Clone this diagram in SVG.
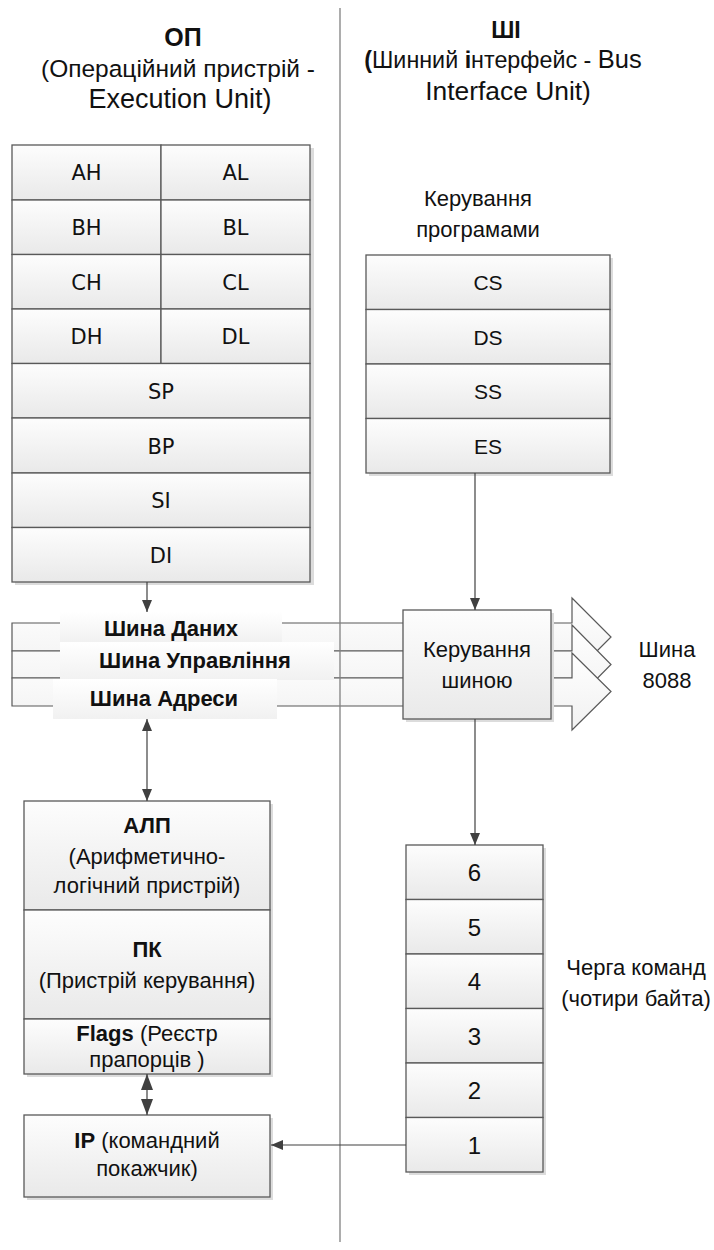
<svg xmlns="http://www.w3.org/2000/svg" width="714" height="1250" viewBox="0 0 714 1250">
<defs>
<linearGradient id="g" x1="0" y1="0" x2="0" y2="1"><stop offset="0" stop-color="#fdfdfd"/><stop offset="1" stop-color="#e9e9e9"/></linearGradient>
<linearGradient id="g2" x1="0" y1="0" x2="0" y2="1"><stop offset="0" stop-color="#ffffff"/><stop offset="1" stop-color="#f1f1f1"/></linearGradient>
<marker id="ar" markerUnits="userSpaceOnUse" markerWidth="12" markerHeight="10" refX="12" refY="5" orient="auto-start-reverse"><path d="M0,0 L12,5 L0,10 z" fill="#404040"/></marker>
<marker id="arL" markerUnits="userSpaceOnUse" markerWidth="16" markerHeight="12" refX="16" refY="6" orient="auto-start-reverse"><path d="M0,0 L16,6 L0,12 z" fill="#404040"/></marker>
</defs>
<style>
.cell{fill:url(#g);stroke:#595959;stroke-width:1.3}
.sh{fill:#dcdcdc}
.lab{fill:url(#g2);stroke:none}
.bus{fill:url(#g2);stroke:#595959;stroke-width:1.2}
.t{font-family:"Liberation Sans",Arial,sans-serif;font-size:22px;fill:#111;text-anchor:middle}
.r{font-family:"DejaVu Sans",sans-serif;font-size:21px;fill:#111;text-anchor:middle}
.s{font-size:21px}
.q{font-size:24px}
.b{font-weight:bold}
.c{stroke:#404040;stroke-width:1.2;fill:none}
.div{stroke:#808080;stroke-width:1.3}
</style>
<g id="bus">
<path class="bus" d="M12,623 H572 V598 L611,637 L572,676 V651 H12 Z"/>
<path class="bus" d="M12,651 H572 V625 L611,664.5 L572,704 V678 H12 Z"/>
<path class="bus" d="M12,678 H572 V653 L611,691.5 L572,730 V706 H12 Z"/>
</g>
<line class="div" x1="340" y1="8" x2="340" y2="1242"/>
<g id="title-eu">
<text class="t b" x="183" y="46" style="font-size:25px">ОП</text>
<text class="t" x="178" y="77" style="font-size:24.5px">(Операційний пристрій -</text>
<text class="t" x="180" y="108" style="font-size:27px">Execution Unit)</text>
</g>
<g id="title-biu">
<text class="t b" x="506" y="38" style="font-size:23px">ШІ</text>
<text class="t" x="503" y="68" style="font-size:23.3px"><tspan class="b">(</tspan>Шинний <tspan class="b">і</tspan>нтерфейс - <tspan style="font-size:25.5px">Bus</tspan></text>
<text class="t" x="508" y="100" style="font-size:26.4px">Interface Unit)</text>
</g>
<g id="gp-registers">
<rect class="sh" x="15" y="148" width="299" height="437"/>
<rect class="cell" x="12" y="145" width="149" height="55"/><rect class="cell" x="161" y="145" width="149" height="55"/>
<rect class="cell" x="12" y="200" width="149" height="54.5"/><rect class="cell" x="161" y="200" width="149" height="54.5"/>
<rect class="cell" x="12" y="254.5" width="149" height="54.5"/><rect class="cell" x="161" y="254.5" width="149" height="54.5"/>
<rect class="cell" x="12" y="309" width="149" height="54.5"/><rect class="cell" x="161" y="309" width="149" height="54.5"/>
<rect class="cell" x="12" y="363.5" width="298" height="54.5"/>
<rect class="cell" x="12" y="418" width="298" height="55"/>
<rect class="cell" x="12" y="473" width="298" height="54.5"/>
<rect class="cell" x="12" y="527.5" width="298" height="54.5"/>
<text class="r" x="86.5" y="180">AH</text><text class="r" x="235.5" y="180">AL</text>
<text class="r" x="86.5" y="235">BH</text><text class="r" x="235.5" y="235">BL</text>
<text class="r" x="86.5" y="289.5">CH</text><text class="r" x="235.5" y="289.5">CL</text>
<text class="r" x="86.5" y="344">DH</text><text class="r" x="235.5" y="344">DL</text>
<text class="r" x="161" y="398.5">SP</text>
<text class="r" x="161" y="453.5">BP</text>
<text class="r" x="161" y="508">SI</text>
<text class="r" x="161" y="562.5">DI</text>
</g>
<g id="seg-label"><text class="t" x="478" y="206">Керування</text><text class="t" x="478" y="237">програмами</text></g>
<g id="seg-registers">
<rect class="sh" x="369" y="258" width="244" height="218"/>
<rect class="cell" x="366" y="255" width="244" height="54.5"/>
<rect class="cell" x="366" y="309.5" width="244" height="54.5"/>
<rect class="cell" x="366" y="364" width="244" height="54.5"/>
<rect class="cell" x="366" y="418.5" width="244" height="54.5"/>
<text class="t s" x="488" y="290">CS</text>
<text class="t s" x="488" y="344.5">DS</text>
<text class="t s" x="488" y="399">SS</text>
<text class="t s" x="488" y="453.5">ES</text>
</g>
<g id="bus-labels">
<rect class="lab" x="60" y="612" width="222" height="30"/>
<rect class="lab" x="60" y="642" width="274" height="38"/>
<rect class="lab" x="53" y="679" width="224" height="40"/>
<text class="t b" x="171" y="636">Шина Даних</text>
<text class="t b" x="195" y="668">Шина Управління</text>
<text class="t b" x="164" y="706">Шина Адреси</text>
</g>
<g id="bus-control">
<rect class="sh" x="406" y="613" width="148" height="109"/>
<rect class="cell" x="403" y="610" width="148" height="109"/>
<text class="t" x="477" y="657">Керування</text>
<text class="t" x="477" y="688">шиною</text>
</g>
<g id="bus-8088"><text class="t" x="667" y="657">Шина</text><text class="t" x="667" y="688">8088</text></g>
<g id="queue">
<rect class="sh" x="409" y="848" width="137" height="327"/>
<rect class="cell" x="406" y="845" width="137" height="54.5"/>
<rect class="cell" x="406" y="899.5" width="137" height="54.5"/>
<rect class="cell" x="406" y="954" width="137" height="54.5"/>
<rect class="cell" x="406" y="1008.5" width="137" height="54.5"/>
<rect class="cell" x="406" y="1063" width="137" height="54.5"/>
<rect class="cell" x="406" y="1117.5" width="137" height="54.5"/>
<text class="t q" x="474.5" y="881">6</text>
<text class="t q" x="474.5" y="935.5">5</text>
<text class="t q" x="474.5" y="990">4</text>
<text class="t q" x="474.5" y="1044.5">3</text>
<text class="t q" x="474.5" y="1099">2</text>
<text class="t q" x="474.5" y="1153.5">1</text>
</g>
<g id="queue-label"><text class="t" x="636" y="975">Черга команд</text><text class="t" x="636" y="1006">(чотири байта)</text></g>
<g id="alu">
<rect class="sh" x="27" y="804" width="246" height="273"/>
<rect class="cell" x="24" y="801" width="246" height="109"/>
<rect class="cell" x="24" y="910" width="246" height="109"/>
<rect class="cell" x="24" y="1019" width="246" height="55"/>
<text class="t b" x="147" y="833">АЛП</text>
<text class="t" x="147" y="864">(Арифметично-</text>
<text class="t" x="147" y="893">логічний пристрій)</text>
<text class="t b" x="147" y="957">ПК</text>
<text class="t" x="147" y="988">(Пристрій керування)</text>
<text class="t" x="147" y="1041"><tspan class="b">Flags</tspan> (Реєстр</text>
<text class="t" x="147" y="1067">прапорців )</text>
</g>
<g id="ip">
<rect class="sh" x="27" y="1118" width="246" height="82"/>
<rect class="cell" x="24" y="1115" width="246" height="82"/>
<text class="t" x="147" y="1148"><tspan class="b">IP</tspan> (командний</text>
<text class="t" x="147" y="1176">покажчик)</text>
</g>
<g id="connectors">
<line class="c" x1="147" y1="582" x2="147" y2="612" marker-end="url(#ar)"/>
<line class="c" x1="147" y1="719" x2="147" y2="801" marker-start="url(#ar)" marker-end="url(#ar)"/>
<line class="c" x1="147" y1="1074" x2="147" y2="1115" marker-start="url(#arL)" marker-end="url(#arL)"/>
<line class="c" x1="475" y1="473" x2="475" y2="610" marker-end="url(#ar)"/>
<line class="c" x1="475" y1="719" x2="475" y2="845" marker-end="url(#ar)"/>
<line class="c" x1="406" y1="1145" x2="271" y2="1145" marker-end="url(#ar)"/>
</g>
</svg>
